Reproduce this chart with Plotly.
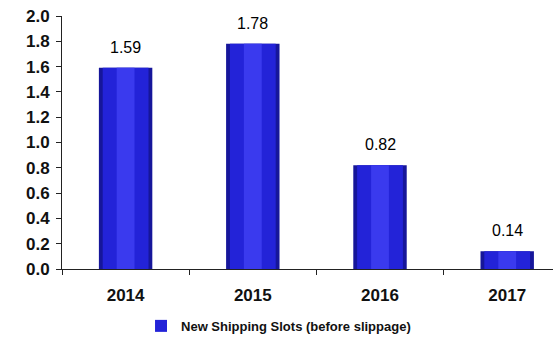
import plotly.graph_objects as go

years = ["2014", "2015", "2016", "2017"]
slots = [1.59, 1.78, 0.82, 0.14]
series_name = "New Shipping Slots (before slippage)"

fig = go.Figure()
# cylinder-like shading: dark edge, main body, highlight
fig.add_trace(go.Bar(x=years, y=slots, width=0.42, marker=dict(color="#16169a", line=dict(width=0)),
                     showlegend=False, hoverinfo="skip"))
fig.add_trace(go.Bar(x=years, y=slots, width=0.36, marker=dict(color="#2323d8", line=dict(width=0)),
                     name=series_name, showlegend=True))
fig.add_trace(go.Bar(x=years, y=slots, width=0.14, marker=dict(color="#3a3aee", line=dict(width=0)),
                     showlegend=False, hoverinfo="skip"))

for i, v in enumerate(slots):
    fig.add_annotation(x=i, y=v, xref="x", yref="y", text=f"{v:.2f}", showarrow=False,
                       yanchor="bottom", yshift=10,
                       font=dict(family="Liberation Sans, Arial", size=16, color="#000"))

fig.update_layout(
    width=553, height=341,
    margin=dict(l=62, r=0, t=16, b=70),
    paper_bgcolor="white", plot_bgcolor="white",
    barmode="overlay",
    font=dict(family="Liberation Sans, Arial", color="#111"),
    showlegend=True,
    legend=dict(orientation="h", x=0.441, xanchor="center", y=-0.225, yanchor="middle",
                font=dict(size=13, color="#111", weight="bold"), itemwidth=30),
    xaxis=dict(type="category", range=[-0.5, 3.36], tickson="boundaries", ticks="outside", ticklen=5,
               tickcolor="#222", showline=True, linecolor="#222", linewidth=1, showgrid=False,
               ticklabelstandoff=11,
               tickfont=dict(size=17, weight="bold"), fixedrange=True),
    yaxis=dict(range=[0, 2.0], dtick=0.2, tickformat=".1f", ticks="outside", ticklen=5, tickcolor="#222",
               showline=True, linecolor="#222", linewidth=1, showgrid=False, zeroline=False,
               ticklabelstandoff=3,
               tickfont=dict(size=17, weight="bold")),
)

fig.write_html("out.html")
